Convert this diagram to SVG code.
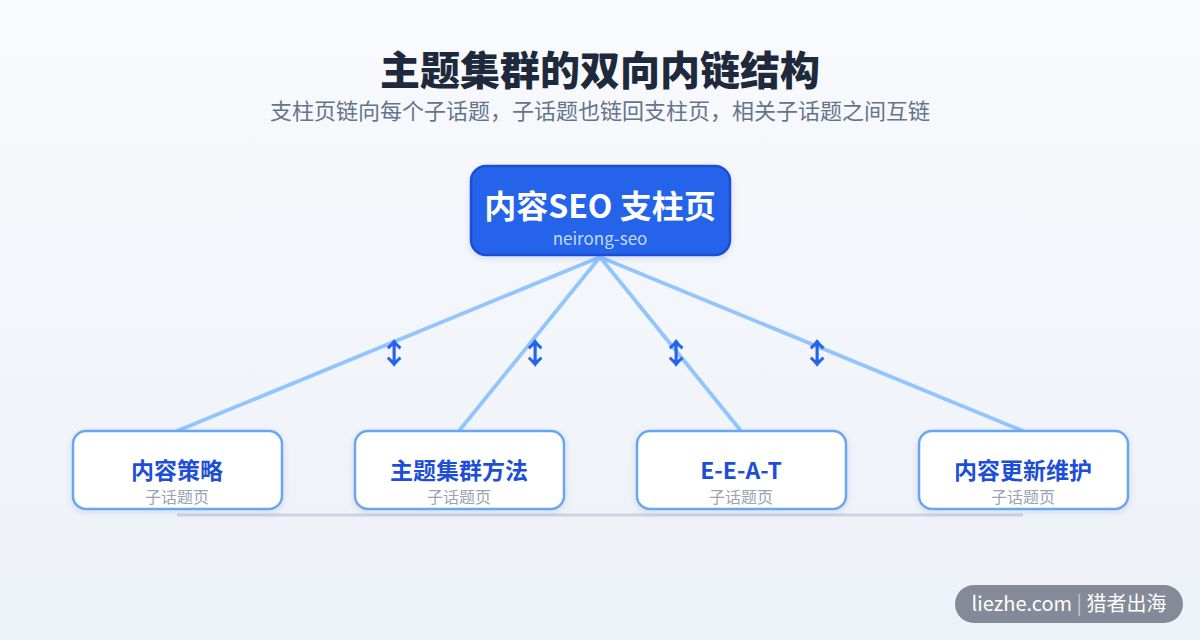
<svg xmlns="http://www.w3.org/2000/svg" width="1200" height="640" viewBox="0 0 1200 640">
<defs>
<linearGradient id="bg" x1="0" y1="0" x2="0" y2="1">
<stop offset="0" stop-color="#f8fafc"/>
<stop offset="1" stop-color="#edf1f8"/>
</linearGradient>
<filter id="sh" x="-10%" y="-10%" width="120%" height="130%">
<feDropShadow dx="0" dy="2" stdDeviation="3" flood-color="#1e3a8a" flood-opacity="0.12"/>
</filter>
</defs>
<style>
.t{font-family:"Noto Sans CJK SC","Noto Sans",sans-serif;text-anchor:middle}
.edge{stroke:#93c5fd;stroke-width:3.8;fill:none;stroke-linecap:round}
.arr{font-family:"Noto Sans CJK SC","DejaVu Sans",sans-serif;font-size:30px;font-weight:bold;fill:#2563eb;text-anchor:middle}
.child rect{fill:#ffffff;stroke:#6aa6ef;stroke-width:2.5}
.lbl{font-size:23px;font-weight:bold;fill:#1d4ed8}
.sub{font-size:16px;fill:#9ca3af}
</style>
<rect width="1200" height="640" fill="url(#bg)"/>
<text class="t" x="600" y="85" font-size="40" font-weight="900" fill="#1e293b">主题集群的双向内链结构</text>
<text class="t" x="600" y="119" font-size="22" fill="#64748b">支柱页链向每个子话题，子话题也链回支柱页，相关子话题之间互链</text>
<g id="connectors">
<line x1="177" y1="515" x2="1023" y2="515" stroke="#cbd5e1" stroke-width="3"/>
<line class="edge" x1="600" y1="257" x2="177" y2="431"/>
<line class="edge" x1="600" y1="257" x2="459" y2="431"/>
<line class="edge" x1="600" y1="257" x2="741" y2="431"/>
<line class="edge" x1="600" y1="257" x2="1023" y2="431"/>
<text class="arr" x="394" y="364">↕</text>
<text class="arr" x="535" y="364">↕</text>
<text class="arr" x="676" y="364">↕</text>
<text class="arr" x="817" y="364">↕</text>
</g>
<g id="pillar">
<rect x="471" y="166" width="259" height="89" rx="15" fill="#2563eb" stroke="#1d4ed8" stroke-width="2.5" filter="url(#sh)"/>
<text class="t" x="600" y="218" font-size="32" font-weight="bold" fill="#ffffff">内容SEO 支柱页</text>
<text class="t" x="600" y="245" font-size="17" fill="#bfdbfe">neirong-seo</text>
</g>
<g id="child1" class="child">
<rect x="73" y="431" width="209" height="78" rx="13" filter="url(#sh)"/>
<text class="t lbl" x="177" y="479">内容策略</text>
<text class="t sub" x="177" y="503">子话题页</text>
</g>
<g id="child2" class="child">
<rect x="355" y="431" width="209" height="78" rx="13" filter="url(#sh)"/>
<text class="t lbl" x="459" y="479">主题集群方法</text>
<text class="t sub" x="459" y="503">子话题页</text>
</g>
<g id="child3" class="child">
<rect x="637" y="431" width="209" height="78" rx="13" filter="url(#sh)"/>
<text class="t lbl" x="741" y="479">E-E-A-T</text>
<text class="t sub" x="741" y="503">子话题页</text>
</g>
<g id="child4" class="child">
<rect x="919" y="431" width="209" height="78" rx="13" filter="url(#sh)"/>
<text class="t lbl" x="1023" y="479">内容更新维护</text>
<text class="t sub" x="1023" y="503">子话题页</text>
</g>
<g id="watermark">
<rect x="955" y="585" width="228" height="38" rx="19" fill="#858a98"/>
<text class="t" x="1069" y="611" font-size="20" fill="#ffffff">liezhe.com <tspan fill="#c7cad2">|</tspan> 猎者出海</text>
</g>
</svg>
